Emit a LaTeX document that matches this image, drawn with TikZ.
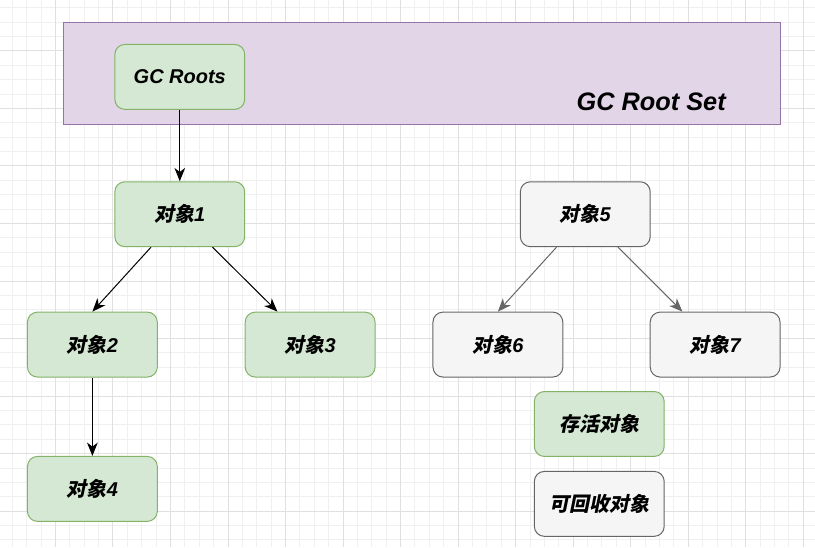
\documentclass[tikz,border=0pt]{standalone}
\usepackage{fontspec}
\setmainfont{Liberation Sans}
\newfontfamily\cjk{Noto Sans CJK SC}[FakeSlant=0.2]
\usetikzlibrary{positioning, calc, arrows.meta}

\definecolor{liveFill}{HTML}{D5E8D4}
\definecolor{liveDraw}{HTML}{82B366}
\definecolor{deadFill}{HTML}{F5F5F5}
\definecolor{deadDraw}{HTML}{666666}
\definecolor{setFill}{HTML}{E1D5E7}
\definecolor{setDraw}{HTML}{9673A6}
\definecolor{gridMinor}{HTML}{F0F0F0}
\definecolor{gridMajor}{HTML}{E0E0E0}

\newcommand{\cn}[1]{{\cjk #1}}

\begin{document}
\begin{tikzpicture}[
    x=0.75pt, y=-0.75pt,
    % Styling
    base font/.style={font=\fontsize{15}{18}\selectfont\bfseries\itshape},
    obj box/.style={
        base font,
        draw,
        minimum width=97.5pt,
        minimum height=48.75pt,
        rounded corners=7.5pt,
        line width=0.75pt
    },
    % Style for objects still reachable
    live obj/.style={
        obj box,
        fill=liveFill,
        draw=liveDraw
    },
    % Style for objects that can be collected
    dead obj/.style={
        obj box,
        fill=deadFill,
        draw=deadDraw
    },
    root set/.style={
        draw=setDraw,
        fill=setFill,
        line width=0.75pt,
        minimum width=538.5pt,
        minimum height=76.5pt
    },
    set label/.style={
        font=\fontsize{19}{22}\selectfont\bfseries\itshape
    },
    live edge/.style={
        -{Stealth[length=10pt, width=8pt, inset=3pt]},
        line width=0.75pt,
        color=black
    },
    dead edge/.style={
        live edge,
        color=deadDraw
    },
    grid minor/.style={gridMinor, line width=0.75pt},
    grid major/.style={gridMajor, line width=0.75pt}
]

% --- Background grid ---
\fill[white] (0,0) rectangle (815,547);
\foreach \i in {1,...,56} {
    \draw[grid minor] ({-2.6+14.4*\i},0) -- ++(0,547);
}
\foreach \j in {1,...,38} {
    \draw[grid minor] (0,{-7.1+14.4*\j}) -- ++(815,0);
}
\foreach \i in {4,8,...,56} {
    \draw[grid major] ({-2.6+14.4*\i},0) -- ++(0,547);
}
\foreach \j in {4,8,...,36} {
    \draw[grid major] (0,{-7.1+14.4*\j}) -- ++(815,0);
}

% --- Root set ---
\node[root set] (rootset) at (422,73) {};
\node[set label] (setlabel) at (651.5,101) {GC Root Set};

% --- Reachable objects ---
\node[live obj] (gcroots) at (179.5,76.5) {GC Roots};
\node[live obj] (obj1) at (179.5,214) {\cn{对象}1};
\node[live obj] (obj2) at (92,344.5) {\cn{对象}2};
\node[live obj] (obj3) at (310,344.5) {\cn{对象}3};
\node[live obj] (obj4) at (92,489) {\cn{对象}4};

% --- Unreachable objects ---
\node[dead obj] (obj5) at (585.5,214) {\cn{对象}5};
\node[dead obj] (obj6) at (498,344.5) {\cn{对象}6};
\node[dead obj] (obj7) at (715.5,344.5) {\cn{对象}7};

% --- Legend ---
\node[live obj] (live) at (599.5,424) {\cn{存活对象}};
\node[dead obj] (dead) at (599.5,504) {\cn{可回收对象}};

% --- References ---
\draw[live edge] (gcroots) -- (obj1);
\draw[live edge] ($(obj1.south west)!0.28!(obj1.south east)$) -- (obj2.north);
\draw[live edge] ($(obj1.south west)!0.75!(obj1.south east)$) -- ($(obj3.north west)!0.25!(obj3.north east)$);
\draw[live edge] (obj2) -- (obj4);
\draw[dead edge] ($(obj5.south west)!0.28!(obj5.south east)$) -- (obj6.north);
\draw[dead edge] ($(obj5.south west)!0.75!(obj5.south east)$) -- ($(obj7.north west)!0.25!(obj7.north east)$);

\end{tikzpicture}
\end{document}
